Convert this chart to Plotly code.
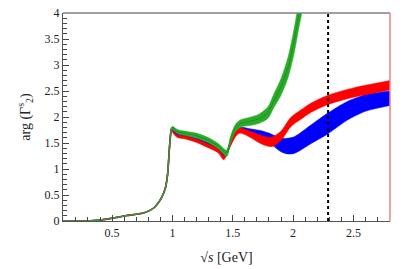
import plotly.graph_objects as go

# common low-energy part (all three curves coincide)
x_low = [0.093, 0.25, 0.30, 0.35, 0.40, 0.48, 0.55, 0.62, 0.70, 0.76, 0.81, 0.85, 0.88, 0.91, 0.94, 0.96, 0.975, 0.99, 1.0]
y_low = [0.0, 0.0, 0.003, 0.01, 0.02, 0.045, 0.075, 0.105, 0.13, 0.155, 0.20, 0.26, 0.34, 0.45, 0.62, 0.90, 1.40, 1.76, 1.80]

# green band
x_g = [1.0, 1.04, 1.1, 1.2, 1.3, 1.38, 1.45, 1.48, 1.52, 1.56, 1.65, 1.72, 1.79, 1.84, 1.90, 1.96, 2.01, 2.05, 2.10]
y_g = [1.80, 1.72, 1.69, 1.64, 1.55, 1.44, 1.30, 1.55, 1.78, 1.87, 1.92, 1.97, 2.08, 2.31, 2.58, 2.97, 3.48, 4.0, 4.6]
w_g = [0.03, 0.04, 0.04, 0.05, 0.05, 0.05, 0.06, 0.07, 0.07, 0.07, 0.08, 0.09, 0.11, 0.13, 0.16, 0.2, 0.24, 0.26, 0.3]

# blue band
x_b = [1.0, 1.04, 1.1, 1.2, 1.3, 1.38, 1.435, 1.48, 1.52, 1.56, 1.65, 1.73, 1.80, 1.90, 1.95, 2.01, 2.15, 2.29, 2.45, 2.60, 2.803]
y_b = [1.75, 1.67, 1.64, 1.57, 1.49, 1.38, 1.26, 1.50, 1.68, 1.76, 1.72, 1.67, 1.60, 1.46, 1.44, 1.46, 1.67, 1.88, 2.12, 2.27, 2.36]
w_b = [0.02, 0.02, 0.02, 0.025, 0.03, 0.03, 0.03, 0.03, 0.03, 0.04, 0.05, 0.07, 0.09, 0.13, 0.15, 0.16, 0.18, 0.2, 0.18, 0.16, 0.14]

# red band
x_r = [1.0, 1.04, 1.1, 1.2, 1.3, 1.38, 1.425, 1.48, 1.52, 1.56, 1.65, 1.73, 1.82, 1.90, 1.98, 2.08, 2.15, 2.29, 2.50, 2.803]
y_r = [1.72, 1.63, 1.61, 1.54, 1.44, 1.35, 1.22, 1.47, 1.66, 1.74, 1.66, 1.57, 1.52, 1.64, 1.90, 2.07, 2.18, 2.33, 2.47, 2.61]
w_r = [0.02, 0.025, 0.03, 0.03, 0.035, 0.04, 0.04, 0.04, 0.05, 0.05, 0.06, 0.08, 0.09, 0.09, 0.09, 0.09, 0.09, 0.09, 0.09, 0.09]

x_cut = 2.29

fig = go.Figure()

def band(x, y, w, color, center_color):
    lo = [a - b for a, b in zip(y, w)]
    hi = [a + b for a, b in zip(y, w)]
    fig.add_trace(go.Scatter(x=x, y=lo, mode="lines", line=dict(color=color, width=0.5, shape="spline", smoothing=0.8),
                             showlegend=False, hoverinfo="skip"))
    fig.add_trace(go.Scatter(x=x, y=hi, mode="lines", fill="tonexty", fillcolor=color,
                             line=dict(color=color, width=0.5, shape="spline", smoothing=0.8),
                             showlegend=False, hoverinfo="skip"))
    fig.add_trace(go.Scatter(x=x, y=y, mode="lines", line=dict(color=center_color, width=1, shape="spline", smoothing=0.8),
                             showlegend=False, hoverinfo="skip"))

for col in ["#0000ff", "#ff0000"]:
    fig.add_trace(go.Scatter(x=x_low, y=y_low, mode="lines", line=dict(color=col, width=1.6, shape="spline", smoothing=0.6),
                             showlegend=False, hoverinfo="skip"))
band(x_b, y_b, w_b, "#0000ff", "#0000ff")
band(x_r, y_r, w_r, "#ff0000", "#ff0000")
fig.add_trace(go.Scatter(x=x_low, y=y_low, mode="lines", line=dict(color="#2ca02c", width=1.4, shape="spline", smoothing=0.6),
                         showlegend=False, hoverinfo="skip"))
band(x_g, y_g, w_g, "#2aab2a", "#1f8f1f")

serif = "Liberation Serif, Times New Roman, serif"

fig.add_shape(type="line", xref="x", yref="paper", x0=x_cut, x1=x_cut, y0=0, y1=1,
              line=dict(color="black", width=2, dash="dot"))
fig.add_shape(type="line", xref="paper", yref="paper", x0=0, x1=1, y0=1, y1=1,
              line=dict(color="#808080", width=1.5))
fig.add_shape(type="line", xref="paper", yref="paper", x0=1, x1=1, y0=0, y1=1,
              line=dict(color="#f08080", width=1.5))

fig.update_layout(
    width=412, height=269,
    margin=dict(l=63, r=22, t=13, b=48, autoexpand=False),
    paper_bgcolor="white", plot_bgcolor="white",
    font=dict(family=serif, size=12, color="#222"),
)
fig.update_xaxes(
    range=[0.093, 2.803], tickmode="array", tickvals=[0.5, 1, 1.5, 2, 2.5],
    ticktext=["0.5", "1", "1.5", "2", "2.5"], automargin=False,
    ticks="inside", ticklen=6, tickcolor="#444", tickwidth=1,
    minor=dict(tickmode="array", tickvals=[0.1 * i for i in range(1, 29)], ticks="inside", ticklen=3.5, tickcolor="#444"),
    showline=True, linecolor="#555", linewidth=1.2, showgrid=False, zeroline=False,
    title=dict(text="√<i>s</i> [GeV]", font=dict(family=serif, size=14), standoff=13),
)
fig.update_yaxes(
    range=[0, 4], tickmode="array", tickvals=[0, 0.5, 1, 1.5, 2, 2.5, 3, 3.5, 4],
    ticktext=["0", "0.5", "1", "1.5", "2", "2.5", "3", "3.5", "4"], automargin=False,
    ticks="inside", ticklen=6, tickcolor="#444", tickwidth=1,
    minor=dict(tickmode="array", tickvals=[0.1 * i for i in range(1, 40)], ticks="inside", ticklen=3.5, tickcolor="#444"),
    showline=True, linecolor="#555", linewidth=1.2, showgrid=False, zeroline=False,
    title=dict(text="arg (Γ<sup>s</sup><sub>2</sub>)", font=dict(family=serif, size=14), standoff=10),
)

fig.write_html("out.html", config={"displayModeBar": False},
               post_script="document.body.style.margin='0';document.body.style.padding='0';")
